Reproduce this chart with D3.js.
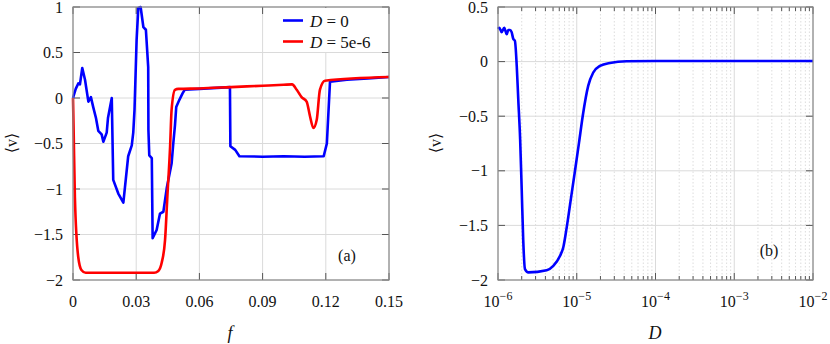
<!DOCTYPE html>
<html lang="en">
<head>
  <meta charset="UTF-8">
  <title>Mean velocity vs f and D</title>
  <script src="https://cdn.jsdelivr.net/npm/d3@7"></script>
  <style>
    body { margin: 0; background: #fff; }
  </style>
</head>
<body>
  <svg id="chart" width="830" height="344" font-family="'Liberation Serif', 'DejaVu Serif', serif"></svg>
  <script>
    // panel (a): blue is D = 0, red is D = 5e-6
    const fBlue = [0, 0.0013, 0.0025, 0.0033, 0.0044, 0.0057, 0.0073, 0.0085, 0.0096, 0.0109, 0.012, 0.0136, 0.0144,
      0.016, 0.0166, 0.0184, 0.0191, 0.0215, 0.0239, 0.0262, 0.0279, 0.0286, 0.0292, 0.0302, 0.031, 0.0321, 0.0334,
      0.0346, 0.0357, 0.0358, 0.0362, 0.0374, 0.0378, 0.0397, 0.0413, 0.0429, 0.0445, 0.0468, 0.0476, 0.0484, 0.049,
      0.0505, 0.052, 0.053, 0.06, 0.0745, 0.0747, 0.077, 0.079, 0.09, 0.1, 0.11, 0.119, 0.1205, 0.122, 0.13, 0.14, 0.15];
    const vBlue = [0, 0.1, 0.16, 0.15, 0.33, 0.2, -0.04, 0.01, -0.1, -0.22, -0.36, -0.4, -0.48,
      -0.38, -0.22, 0, -0.9, -1.05, -1.15, -0.64, -0.52, -0.38, -0.13, 0.64, 0.99, 1.0, 0.78,
      0.75, 0.34, -0.35, -0.63, -0.66, -1.54, -1.45, -1.27, -1.25, -0.99, -0.72, -0.5, -0.3, -0.1,
      -0.02, 0.05, 0.09, 0.1, 0.12, -0.53, -0.57, -0.64, -0.645, -0.64, -0.645, -0.64, -0.5, 0.18, 0.2, 0.215, 0.23];
    const fRed = [0, 0.0003, 0.0009, 0.0025, 0.004, 0.006, 0.02, 0.0385, 0.0405, 0.0421, 0.0437, 0.0448, 0.0461,
      0.0468, 0.0484, 0.05, 0.06, 0.075, 0.09, 0.1, 0.104, 0.1062, 0.1085, 0.1109, 0.1125, 0.1141, 0.1157, 0.1172,
      0.1196, 0.15];
    const vRed = [0, -0.35, -1.09, -1.75, -1.89, -1.92, -1.92, -1.92, -1.9, -1.81, -1.56, -1.08, -0.53,
      -0.13, 0.09, 0.1, 0.105, 0.12, 0.135, 0.145, 0.15, 0.09, 0.01, -0.04, -0.2, -0.33, -0.24, 0.09,
      0.19, 0.23];
    // panel (b)
    const dVals = [1.0e-6, 1.04e-6, 1.11e-6, 1.2e-6, 1.29e-6, 1.35e-6, 1.42e-6, 1.49e-6, 1.56e-6, 1.64e-6, 1.73e-6,
      1.81e-6, 1.91e-6, 2.0e-6, 2.09e-6, 2.2e-6, 2.43e-6, 4.15e-6, 5.04e-6, 6.12e-6, 6.75e-6, 7.45e-6, 8.45e-6,
      9.5e-6, 1.07e-5, 1.19e-5, 1.4e-5, 1.62e-5, 1.97e-5, 2.64e-5, 4.31e-5, 1e-4, 1e-3, 1e-2];
    const vD = [0.3, 0.31, 0.27, 0.31, 0.25, 0.29, 0.29, 0.27, 0.21, 0.19, -0.04,
      -0.35, -0.71, -1.17, -1.63, -1.9, -1.93, -1.91, -1.87, -1.78, -1.7, -1.52, -1.25,
      -1.0, -0.74, -0.5, -0.22, -0.1, -0.04, -0.012, 0.003, 0.005, 0.006, 0.006];

    const fTicks = [0, 0.03, 0.06, 0.09, 0.12, 0.15];
    const fTickLabels = ["0", "0.03", "0.06", "0.09", "0.12", "0.15"];
    const vTicksA = [1, 0.5, 0, -0.5, -1, -1.5, -2];
    const vTicksB = [0.5, 0, -0.5, -1, -1.5, -2];
    const dExponents = [-6, -5, -4, -3, -2];
    const legendLabels = ["D = 0", "D = 5e-6"];

    const svg = d3.select('#chart');
    const frameCol = '#8a8a8a', gridCol = '#dadada', tickCol = '#555';
    const fmt = v => (v < 0 ? '\u2212' : '') + Math.abs(v);

    function frame(x0, x1, y0, y1) {
      svg.append('rect').attr('x', x0).attr('y', y0).attr('width', x1 - x0).attr('height', y1 - y0)
        .attr('fill', 'none').attr('stroke', frameCol).attr('stroke-width', 1.2);
    }

    function yAxis(y, ticks, x0, x1) {
      ticks.forEach(t => {
        const yy = y(t);
        svg.append('line').attr('x1', x0).attr('x2', x1).attr('y1', yy).attr('y2', yy)
          .attr('stroke', gridCol).attr('stroke-width', 1);
        svg.append('line').attr('x1', x0).attr('x2', x0 + 7).attr('y1', yy).attr('y2', yy)
          .attr('stroke', tickCol).attr('stroke-width', 1);
        svg.append('line').attr('x1', x1 - 7).attr('x2', x1).attr('y1', yy).attr('y2', yy)
          .attr('stroke', tickCol).attr('stroke-width', 1);
        svg.append('text').attr('x', x0 - 10).attr('y', yy).attr('dy', '0.35em')
          .attr('text-anchor', 'end').attr('font-size', '16px').attr('fill', '#111').text(fmt(t));
      });
    }

    function vLabel(x, y) {
      svg.append('text').attr('transform', `translate(${x},${y}) rotate(-90)`)
        .attr('text-anchor', 'middle').attr('font-size', '16px').attr('fill', '#111').text('\u27E8v\u27E9');
    }

    // ---------- panel (a) ----------
    const xa = d3.scaleLinear().domain([0, 0.15]).range([73, 389]);
    const ya = d3.scaleLinear().domain([-2, 1]).range([280, 7]);

    fTicks.forEach(t => {
      svg.append('line').attr('x1', xa(t)).attr('x2', xa(t)).attr('y1', 7).attr('y2', 280)
        .attr('stroke', gridCol).attr('stroke-width', 1);
    });
    yAxis(ya, vTicksA, 73, 389);
    fTicks.forEach((t, i) => {
      svg.append('line').attr('x1', xa(t)).attr('x2', xa(t)).attr('y1', 280).attr('y2', 273)
        .attr('stroke', tickCol).attr('stroke-width', 1);
      svg.append('line').attr('x1', xa(t)).attr('x2', xa(t)).attr('y1', 7).attr('y2', 14)
        .attr('stroke', tickCol).attr('stroke-width', 1);
      svg.append('text').attr('x', xa(t)).attr('y', 307).attr('text-anchor', 'middle')
        .attr('font-size', '16px').attr('fill', '#111').text(fTickLabels[i]);
    });

    const lineA = d3.line().x(d => xa(d[0])).y(d => ya(d[1]));
    svg.append('path').datum(d3.zip(fBlue, vBlue)).attr('d', lineA)
      .attr('fill', 'none').attr('stroke', '#0000ff').attr('stroke-width', 2.6).attr('stroke-linejoin', 'round');
    svg.append('path').datum(d3.zip(fRed, vRed)).attr('d', lineA.curve(d3.curveMonotoneX))
      .attr('fill', 'none').attr('stroke', '#ff0000').attr('stroke-width', 2.6).attr('stroke-linejoin', 'round');

    // legend
    svg.append('rect').attr('x', 272).attr('y', 8).attr('width', 116).attr('height', 44).attr('fill', '#fff');
    ['#0000ff', '#ff0000'].forEach((c, i) => {
      const ly = 20.5 + i * 21;
      svg.append('line').attr('x1', 283).attr('x2', 303).attr('y1', ly).attr('y2', ly)
        .attr('stroke', c).attr('stroke-width', 2.6);
      const parts = legendLabels[i].split(' = ');
      const t = svg.append('text').attr('x', 310).attr('y', ly + 6).attr('font-size', '17px').attr('fill', '#111');
      t.append('tspan').attr('font-style', 'italic').text(parts[0]);
      t.append('tspan').text(' = ' + parts[1]);
    });
    frame(73, 389, 7, 280);

    svg.append('text').attr('x', 347).attr('y', 261).attr('text-anchor', 'middle')
      .attr('font-size', '16px').attr('fill', '#111').text('(a)');
    svg.append('text').attr('x', 230).attr('y', 339).attr('text-anchor', 'middle')
      .attr('font-size', '18px').attr('font-style', 'italic').attr('fill', '#111').text('f');
    vLabel(17, 143);

    // ---------- panel (b) ----------
    const xb = d3.scaleLog().domain([1e-6, 1e-2]).range([498, 813]);
    const yb = d3.scaleLinear().domain([-2, 0.5]).range([280, 7]);

    const minor = [];
    dExponents.slice(0, -1).forEach(e => {
      for (let k = 2; k <= 9; k++) minor.push(k * Math.pow(10, e));
    });
    minor.forEach(m => {
      svg.append('line').attr('x1', xb(m)).attr('x2', xb(m)).attr('y1', 7).attr('y2', 280)
        .attr('stroke', '#d4d4d4').attr('stroke-width', 0.8).attr('stroke-dasharray', '1.5,2');
    });
    dExponents.forEach(e => {
      const x = xb(Math.pow(10, e));
      svg.append('line').attr('x1', x).attr('x2', x).attr('y1', 7).attr('y2', 280)
        .attr('stroke', gridCol).attr('stroke-width', 1);
    });
    yAxis(yb, vTicksB, 498, 813);
    minor.forEach(m => {
      svg.append('line').attr('x1', xb(m)).attr('x2', xb(m)).attr('y1', 280).attr('y2', 276)
        .attr('stroke', tickCol).attr('stroke-width', 1);
      svg.append('line').attr('x1', xb(m)).attr('x2', xb(m)).attr('y1', 7).attr('y2', 11)
        .attr('stroke', tickCol).attr('stroke-width', 1);
    });
    dExponents.forEach(e => {
      const x = xb(Math.pow(10, e));
      svg.append('line').attr('x1', x).attr('x2', x).attr('y1', 280).attr('y2', 273)
        .attr('stroke', tickCol).attr('stroke-width', 1);
      svg.append('line').attr('x1', x).attr('x2', x).attr('y1', 7).attr('y2', 14)
        .attr('stroke', tickCol).attr('stroke-width', 1);
      const t = svg.append('text').attr('x', x).attr('y', 307).attr('text-anchor', 'middle')
        .attr('font-size', '16px').attr('fill', '#111');
      t.append('tspan').text('10');
      t.append('tspan').attr('dy', '-7').attr('font-size', '12px').text('\u2212' + Math.abs(e));
    });

    const lineB = d3.line().x(d => xb(d[0])).y(d => yb(d[1])).curve(d3.curveMonotoneX);
    svg.append('path').datum(d3.zip(dVals, vD)).attr('d', lineB)
      .attr('fill', 'none').attr('stroke', '#0000ff').attr('stroke-width', 2.6).attr('stroke-linejoin', 'round');
    frame(498, 813, 7, 280);

    svg.append('text').attr('x', 769).attr('y', 256).attr('text-anchor', 'middle')
      .attr('font-size', '16px').attr('fill', '#111').text('(b)');
    svg.append('text').attr('x', 655).attr('y', 339).attr('text-anchor', 'middle')
      .attr('font-size', '18px').attr('font-style', 'italic').attr('fill', '#111').text('D');
    vLabel(441, 143);
  </script>
</body>
</html>
